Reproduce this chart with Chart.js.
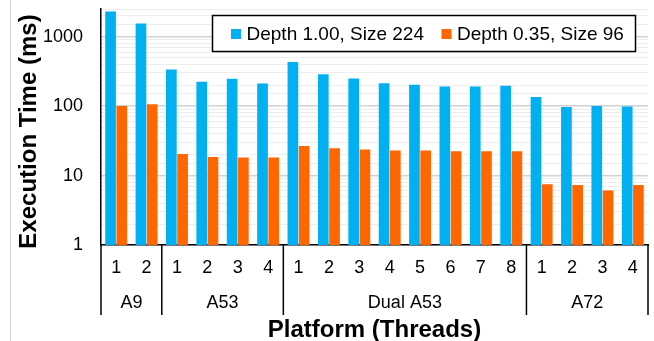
<!DOCTYPE html>
<html>
<head>
<meta charset="utf-8">
<script src="https://cdn.jsdelivr.net/npm/chart.js@4/dist/chart.umd.min.js"></script>
<style>
  html, body { margin: 0; padding: 0; background: #fff; }
  #wrap { width: 654px; height: 341px; position: relative; }
</style>
</head>
<body>
<div id="wrap"><canvas id="c" width="654" height="341"></canvas></div>
<script>
// Thread counts per bar group, and the platform each run belongs to
const threads = ['1','2','1','2','3','4','1','2','3','4','5','6','7','8','1','2','3','4'];
const platforms = ['A9', 'A53', 'Dual A53', 'A72'];
const platformSizes = [2, 4, 8, 4];

// Execution time in milliseconds
const seriesNames = ['Depth 1.00, Size 224', 'Depth 0.35, Size 96'];
const depth100 = [2300, 1550, 336, 224, 247, 212, 433, 288, 250, 214, 203, 192, 192, 196, 135, 97, 100, 99];
const depth035 = [100, 106, 20.5, 18.5, 18.2, 18.2, 26.7, 24.7, 23.7, 22.9, 22.9, 22.4, 22.4, 22.4, 7.5, 7.3, 6.1, 7.3];

const yTickValues = [1, 10, 100, 1000];
const seriesColors = ['#00B0F0', '#FF6600'];

const FONT = '"Liberation Sans", Arial, sans-serif';
const isDecade = v => Math.abs(Math.log10(v) - Math.round(Math.log10(v))) < 1e-9;

const decorations = {
  id: 'decorations',
  beforeDraw(chart) {
    const { ctx, width, height } = chart;
    ctx.save();
    ctx.fillStyle = '#fff';
    ctx.fillRect(0, 0, width, height);
    ctx.strokeStyle = '#d6d6d6';
    ctx.lineWidth = 1;
    ctx.beginPath();
    ctx.moveTo(10.5, 0);
    ctx.lineTo(10.5, height);
    ctx.stroke();
    ctx.restore();
  },
  afterDraw(chart) {
    const { ctx, chartArea, scales: { x } } = chart;
    const half = (x.getPixelForValue(1) - x.getPixelForValue(0)) / 2;
    const edge = i => i < threads.length ? x.getPixelForValue(i) - half : x.getPixelForValue(i - 1) + half;

    ctx.save();
    // platform group separators and names
    ctx.strokeStyle = '#000';
    ctx.lineWidth = 1.5;
    ctx.fillStyle = '#000';
    ctx.font = '18px ' + FONT;
    ctx.textAlign = 'center';
    ctx.textBaseline = 'alphabetic';
    let start = 0;
    const bounds = [0];
    platformSizes.forEach((n, i) => {
      const end = start + n;
      bounds.push(end);
      ctx.fillText(platforms[i], (edge(start) + edge(end)) / 2, 308);
      start = end;
    });
    bounds.forEach(b => {
      const px = edge(b);
      ctx.beginPath();
      ctx.moveTo(px, chartArea.bottom);
      ctx.lineTo(px, 315);
      ctx.stroke();
    });

    // axis titles
    ctx.font = 'bold 24px ' + FONT;
    ctx.fillText('Platform (Threads)', (chartArea.left + chartArea.right) / 2, 337);
    ctx.save();
    ctx.translate(36, 131.5);
    ctx.rotate(-Math.PI / 2);
    ctx.fillText('Execution Time (ms)', 0, 0);
    ctx.restore();

    // legend box
    const box = { x: 212.5, y: 15.5, w: 423, h: 36 };
    ctx.fillStyle = '#fff';
    ctx.fillRect(box.x, box.y, box.w, box.h);
    ctx.strokeStyle = '#000';
    ctx.lineWidth = 1.5;
    ctx.strokeRect(box.x, box.y, box.w, box.h);
    ctx.font = '19px ' + FONT;
    ctx.textAlign = 'left';
    const itemX = [231, 441.5];
    chart.data.datasets.forEach((ds, i) => {
      ctx.fillStyle = ds.backgroundColor;
      ctx.fillRect(itemX[i], 29, 10, 10);
      ctx.fillStyle = '#000';
      ctx.fillText(ds.label, itemX[i] + 15.5, 40);
    });
    ctx.restore();
  }
};

new Chart(document.getElementById('c'), {
  type: 'bar',
  data: {
    labels: threads,
    datasets: [
      { label: seriesNames[0], data: depth100, backgroundColor: seriesColors[0], borderWidth: 0 },
      { label: seriesNames[1], data: depth035, backgroundColor: seriesColors[1], borderWidth: 0 }
    ]
  },
  options: {
    responsive: false,
    animation: false,
    devicePixelRatio: 1,
    categoryPercentage: 0.74,
    barPercentage: 0.95,
    layout: { padding: { top: 9, right: 6, left: 0, bottom: 0 } },
    plugins: { legend: { display: false }, tooltip: { enabled: false } },
    scales: {
      x: {
        type: 'category',
        offset: true,
        grid: { display: false, drawTicks: false },
        border: { display: true, color: '#000', width: 1.5 },
        ticks: { font: { family: FONT, size: 18 }, color: '#000', padding: 12, maxRotation: 0, autoSkip: false },
        afterFit(s) { s.height = 96; s.paddingLeft = 0; s.paddingRight = 0; }
      },
      y: {
        type: 'logarithmic',
        min: 1,
        max: 2500,
        grid: {
          drawTicks: false,
          color: c => (c.tick && isDecade(c.tick.value)) ? '#d2d2d2' : '#ededed',
          lineWidth: c => (c.tick && isDecade(c.tick.value)) ? 1.5 : 1
        },
        border: { color: '#000', width: 1.5 },
        ticks: {
          autoSkip: false,
          padding: 18,
          font: { family: FONT, size: 18 },
          color: '#000',
          callback: v => yTickValues.includes(v) ? String(v) : ''
        },
        afterFit(s) { s.width = 101; s.paddingTop = 0; s.paddingBottom = 0; }
      }
    }
  },
  plugins: [decorations]
});
</script>
</body>
</html>
